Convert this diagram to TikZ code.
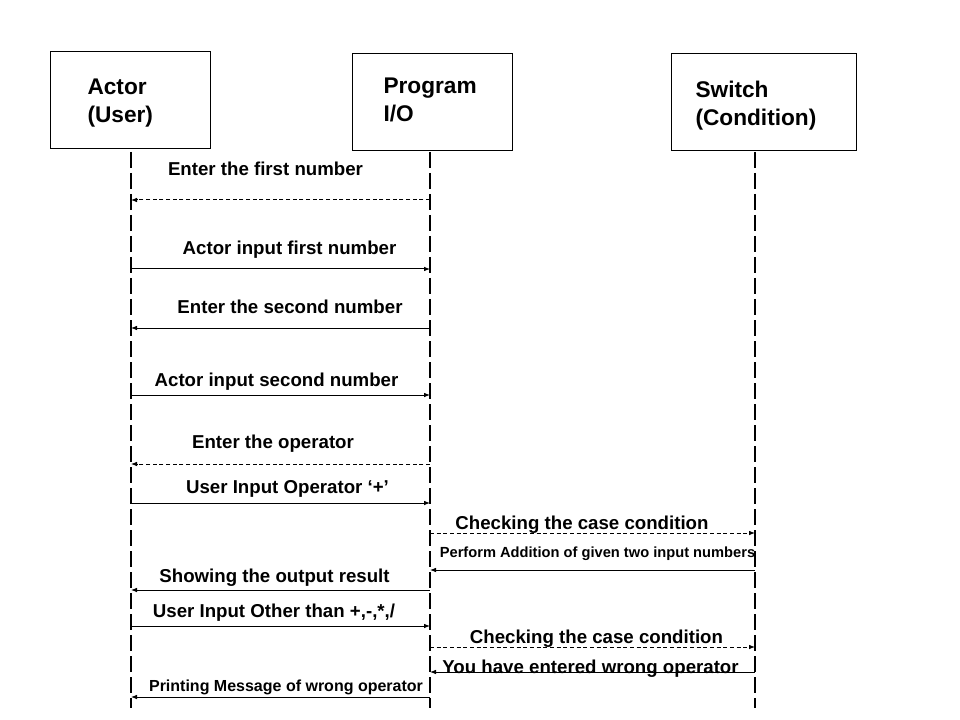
\documentclass[tikz,border=0pt]{standalone}
\usepackage{fontspec}
\setmainfont{Liberation Sans}
\usetikzlibrary{arrows.meta, positioning}

\begin{document}
\begin{tikzpicture}[x=0.75pt, y=-0.75pt, >={Latex[length=4.5pt,width=3.5pt]},
  lifebox/.style={draw, line width=0.75pt, anchor=north west, align=left,
    minimum height=72.75pt, font=\fontsize{17}{21}\selectfont\bfseries},
  lifeline/.style={line width=1.5pt, dash pattern=on 12pt off 3.75pt},
  solidmsg/.style={->, line width=0.75pt},
  dashmsg/.style={->, line width=0.75pt, dash pattern=on 3pt off 2pt},
  msg/.style={anchor=base, inner sep=0pt, font=\fontsize{14}{16}\selectfont\bfseries}]
\useasboundingbox (0,0) rectangle (960,720);

\node[lifebox, text width=64.5pt, inner xsep=27.75pt, text depth=20pt] (user) at (50,51) {Actor\\(User)};
\node[lifebox, text width=73.5pt, inner xsep=23.25pt, text depth=24.5pt] (prog) at (352,53) {Program\\I/O};
\node[lifebox, text width=102.75pt, inner xsep=18pt, text depth=18.5pt] (switch) at (671,53) {Switch\\(Condition)};

\coordinate (user-top) at (131,152);
\coordinate (user-end) at (131,708);
\coordinate (prog-top) at (430,152);
\coordinate (prog-end) at (430,708);
\coordinate (switch-top) at (755,152);
\coordinate (switch-end) at (755,708);
\draw[lifeline] (user-top) -- (user-end);
\draw[lifeline] (prog-top) -- (prog-end);
\draw[lifeline] (switch-top) -- (switch-end);

\foreach \y [count=\i] in {200,269,328,395,464,503,533,570,590,626,647,672,697}{
  \coordinate (u\i) at (131,\y);
  \coordinate (p\i) at (430,\y);
  \coordinate (s\i) at (755,\y);
}

\draw[dashmsg] (p1) -- (u1);
\draw[solidmsg] (u2) -- (p2);
\draw[solidmsg] (p3) -- (u3);
\draw[solidmsg] (u4) -- (p4);
\draw[dashmsg] (p5) -- (u5);
\draw[solidmsg] (u6) -- (p6);
\draw[dashmsg] (p7) -- (s7);
\draw[solidmsg] (s8) -- (p8);
\draw[solidmsg] (p9) -- (u9);
\draw[solidmsg] (u10) -- (p10);
\draw[dashmsg] (p11) -- (s11);
\draw[solidmsg] (s12) -- (p12);
\draw[solidmsg] (p13) -- (u13);

\node[msg] (m1) at (265.5,176) {Enter the first number};
\node[msg] (m2) at (289.5,255) {Actor input first number};
\node[msg] (m3) at (290,313) {Enter the second number};
\node[msg] (m4) at (276.5,386) {Actor input second number};
\node[msg] (m5) at (273,448) {Enter the operator};
\node[msg] (m6) at (287.5,493) {User Input Operator ‘+’};
\node[msg] (m7) at (582,529) {Checking the case condition};
\node[msg, font=\fontsize{11}{13}\selectfont\bfseries] (m8) at (597.5,557) {Perform Addition of given two input numbers};
\node[msg] (m9) at (274.5,582) {Showing the output result};
\node[msg] (m10) at (274,617) {User Input Other than +,-,*,/};
\node[msg] (m11) at (596.5,643) {Checking the case condition};
\node[msg] (m12) at (590.5,673) {You have entered wrong operator};
\node[msg, font=\fontsize{12}{14}\selectfont\bfseries] (m13) at (286,691) {Printing Message of wrong operator};

\end{tikzpicture}
\end{document}
